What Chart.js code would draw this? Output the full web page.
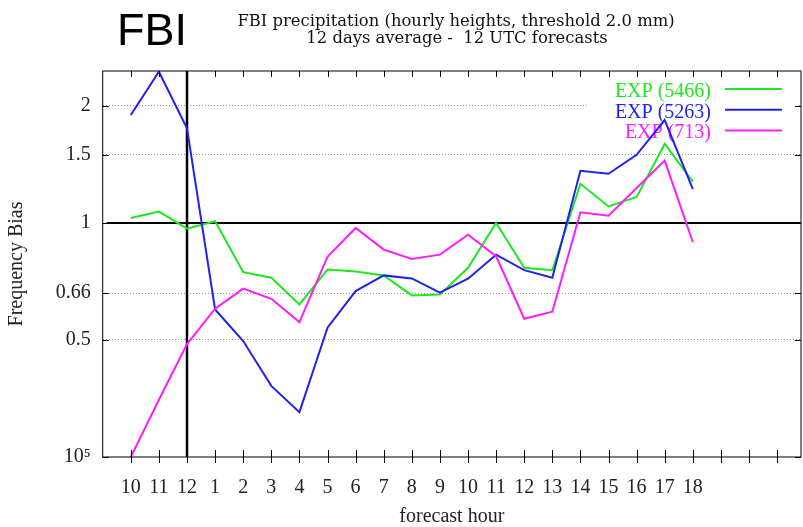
<!DOCTYPE html>
<html>
<head>
<meta charset="utf-8">
<title>FBI precipitation</title>
<script src="https://cdn.jsdelivr.net/npm/chart.js@4.4.1/dist/chart.umd.min.js"></script>
<style>
  html, body { margin: 0; padding: 0; background: #fff; }
  canvas { display: block; }
</style>
</head>
<body>
<canvas id="fbiChart" width="803" height="527"></canvas>
<script>
// forecast hours (x axis), 12 UTC run
const hourLabels = ['10', '11', '12', '1', '2', '3', '4', '5', '6', '7', '8', '9', '10', '11', '12', '13', '14', '15', '16', '17', '18'];

// frequency bias per experiment
const exp5466 = [1.03, 1.07, 0.967, 1.01, 0.747, 0.723, 0.617, 0.759, 0.75, 0.733, 0.651, 0.655, 0.767, 1.0, 0.767, 0.756, 1.261, 1.103, 1.166, 1.597, 1.278];
const exp5263 = [1.895, 2.45, 1.752, 0.599, 0.497, 0.381, 0.326, 0.538, 0.668, 0.733, 0.72, 0.662, 0.719, 0.829, 0.756, 0.723, 1.362, 1.338, 1.497, 1.84, 1.222];
const exp713 = [0.25, 0.351, 0.488, 0.602, 0.678, 0.638, 0.556, 0.818, 0.971, 0.854, 0.808, 0.829, 0.933, 0.821, 0.567, 0.591, 1.065, 1.044, 1.23, 1.447, 0.892];

const seriesNames = ['EXP (5466)', 'EXP (5263)', 'EXP (713)'];

// y axis ticks (log scale)
const yTickValues = [0.25, 0.5, 0.66, 1, 1.5, 2];
const yTickLabels = ['10\u2075', '0.5', '0.66', '1', '1.5', '2'];

const titleLines = ['FBI precipitation (hourly heights, threshold 2.0 mm)', '12 days average -  12 UTC forecasts'];
const bigTitle = 'FBI';

// reference lines: bias = 1 and start of the forecast (index of "12")
const refBias = 1;
const refHourIndex = 2;

const toPoints = arr => arr.map((v, i) => ({ x: i, y: v }));

const serif = '"Liberation Serif", "Times New Roman", serif';

const decor = {
    id: 'decor',
    beforeDatasetsDraw(chart) {
        const { ctx, chartArea: a, scales: { x, y } } = chart;
        ctx.save();
        // white box behind the legend
        ctx.fillStyle = '#fff';
        ctx.fillRect(587, 79, 212, 62);

        // reference lines
        ctx.strokeStyle = '#000';
        ctx.lineWidth = 2;
        const yb = y.getPixelForValue(refBias);
        ctx.beginPath();
        ctx.moveTo(a.left + 4, yb);
        ctx.lineTo(a.right, yb);
        ctx.stroke();
        const xr = x.getPixelForValue(refHourIndex);
        ctx.lineWidth = 2.5;
        ctx.beginPath();
        ctx.moveTo(xr, a.top);
        ctx.lineTo(xr, a.bottom);
        ctx.stroke();

        // legend: text right aligned, sample line on the right
        ctx.font = '20px ' + serif;
        ctx.textAlign = 'right';
        ctx.textBaseline = 'alphabetic';
        chart.data.datasets.forEach((ds, i) => {
            const ly = 89 + i * 20.7;
            ctx.fillStyle = ds.borderColor;
            ctx.fillText(ds.label, 711, ly + 8);
            ctx.strokeStyle = ds.borderColor;
            ctx.lineWidth = 2;
            ctx.beginPath();
            ctx.moveTo(725, ly);
            ctx.lineTo(782, ly);
            ctx.stroke();
        });
        ctx.restore();
    },
    afterDraw(chart) {
        const { ctx, chartArea: a, scales: { x, y } } = chart;
        ctx.save();
        // frame
        ctx.strokeStyle = '#000';
        ctx.lineWidth = 1;
        ctx.strokeRect(a.left, a.top, a.right - a.left, a.bottom - a.top);

        // tick marks on all sides
        ctx.beginPath();
        for (let i = -1; i <= 23; i++) {
            const px = Math.round(x.getPixelForValue(i)) + 0.5;
            if (px <= a.left + 1 || px >= a.right - 1) continue;
            ctx.moveTo(px, a.top);
            ctx.lineTo(px, a.top + 6);
            ctx.moveTo(px, a.bottom - 7);
            ctx.lineTo(px, a.bottom + 6);
        }
        yTickValues.forEach(v => {
            const py = Math.round(y.getPixelForValue(v)) + 0.5;
            ctx.moveTo(a.left, py);
            ctx.lineTo(a.left + 6, py);
            ctx.moveTo(a.right - 6, py);
            ctx.lineTo(a.right, py);
        });
        ctx.stroke();

        // titles
        ctx.fillStyle = '#000';
        ctx.textBaseline = 'alphabetic';
        ctx.textAlign = 'left';
        ctx.font = '45px "Liberation Sans", Arial, sans-serif';
        ctx.fillText(bigTitle, 117, 45);
        ctx.textAlign = 'center';
        ctx.font = '16.4px "DejaVu Serif", serif';
        ctx.fillStyle = '#111';
        ctx.fillText(titleLines[0], 456, 26);
        ctx.fillText(titleLines[1], 457, 42.5);
        ctx.restore();
    }
};

const ctx = document.getElementById('fbiChart').getContext('2d');
new Chart(ctx, {
    type: 'line',
    data: {
        datasets: [
            { label: seriesNames[0], data: toPoints(exp5466), borderColor: '#1ee81e', order: 3 },
            { label: seriesNames[1], data: toPoints(exp5263), borderColor: '#2222f0', order: 2 },
            { label: seriesNames[2], data: toPoints(exp713), borderColor: '#ff1cff', order: 1 }
        ]
    },
    options: {
        responsive: false,
        animation: false,
        events: [],
        layout: { padding: { top: 71, right: 2, bottom: 0, left: 0 } },
        elements: {
            line: { borderWidth: 2, tension: 0, fill: false },
            point: { radius: 0 }
        },
        plugins: {
            legend: { display: false },
            tooltip: { enabled: false }
        },
        scales: {
            x: {
                type: 'linear',
                min: -1,
                max: 23.85,
                grid: { display: false, drawTicks: false },
                border: { display: false },
                ticks: {
                    stepSize: 1,
                    autoSkip: false,
                    maxRotation: 0,
                    padding: 19,
                    color: '#222',
                    font: { family: serif, size: 20 },
                    callback: function(value) {
                        return Number.isInteger(value) && hourLabels[value] !== undefined ? hourLabels[value] : '';
                    }
                },
                title: {
                    display: true,
                    text: 'forecast hour',
                    color: '#222',
                    font: { family: serif, size: 20, lineHeight: 1 },
                    padding: { top: 0, bottom: 0 }
                },
                afterFit: function(scale) {
                    scale.height = 70;
                    scale.paddingLeft = 0;
                    scale.paddingRight = 0;
                }
            },
            y: {
                type: 'logarithmic',
                min: 0.25,
                max: 2.46,
                afterBuildTicks: function(scale) {
                    scale.ticks = yTickValues.map(v => ({ value: v }));
                },
                grid: {
                    drawTicks: false,
                    color: function(c) {
                        const v = c.tick ? c.tick.value : null;
                        return (v === 0.25 || v === 1) ? 'rgba(0,0,0,0)' : '#9a9a9a';
                    },
                    lineWidth: 1
                },
                border: { display: false, dash: [1, 2] },
                ticks: {
                    padding: 12,
                    color: '#222',
                    font: { family: serif, size: 20 },
                    callback: function(value) {
                        const k = yTickValues.indexOf(value);
                        return k >= 0 ? yTickLabels[k] : '';
                    }
                },
                title: {
                    display: true,
                    text: 'Frequency Bias',
                    color: '#222',
                    font: { family: serif, size: 20, lineHeight: 1 },
                    padding: { top: 7, bottom: 0 }
                },
                afterFit: function(scale) {
                    scale.width = 102.7;
                    scale.paddingTop = 0;
                    scale.paddingBottom = 0;
                }
            }
        }
    },
    plugins: [decor]
});
</script>
</body>
</html>
